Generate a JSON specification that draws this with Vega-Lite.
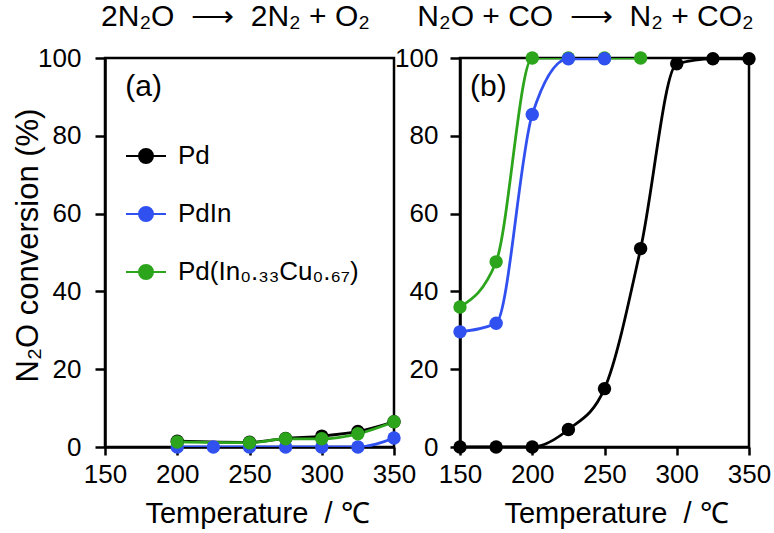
{
  "$schema": "https://vega.github.io/schema/vega-lite/v6.json",
  "padding": {"left": 10, "top": 0, "right": 5, "bottom": 0},
  "background": "white",
  "config": {
    "font": "Liberation Sans",
    "view": {"stroke": "black", "strokeWidth": 2.5},
    "axis": {
      "grid": false,
      "domainColor": "black",
      "domainWidth": 2.5,
      "tickColor": "black",
      "tickWidth": 2.5,
      "labelColor": "black",
      "titleColor": "black",
      "labelFontSize": 26,
      "titleFontWeight": "normal",
      "labelFont": "Liberation Sans",
      "titleFont": "Liberation Sans",
      "labelFlush": false,
      "labelOverlap": false
    },
    "title": {"fontSize": 30, "fontWeight": "normal", "color": "black", "font": "Liberation Sans"}
  },
  "datasets": {
    "a": [
      {"catalyst": "Pd", "T": 200, "conv": 1.5},
      {"catalyst": "Pd", "T": 250, "conv": 1.2},
      {"catalyst": "Pd", "T": 275, "conv": 2.2},
      {"catalyst": "Pd", "T": 300, "conv": 2.8},
      {"catalyst": "Pd", "T": 325, "conv": 4.0},
      {"catalyst": "Pd", "T": 350, "conv": 6.5},
      {"catalyst": "PdIn", "T": 200, "conv": 0},
      {"catalyst": "PdIn", "T": 225, "conv": 0},
      {"catalyst": "PdIn", "T": 250, "conv": 0},
      {"catalyst": "PdIn", "T": 275, "conv": 0},
      {"catalyst": "PdIn", "T": 300, "conv": 0},
      {"catalyst": "PdIn", "T": 325, "conv": 0},
      {"catalyst": "PdIn", "T": 350, "conv": 2.3},
      {"catalyst": "Pd(In₀.₃₃Cu₀.₆₇)", "T": 200, "conv": 1.3},
      {"catalyst": "Pd(In₀.₃₃Cu₀.₆₇)", "T": 250, "conv": 1.1},
      {"catalyst": "Pd(In₀.₃₃Cu₀.₆₇)", "T": 275, "conv": 2.1},
      {"catalyst": "Pd(In₀.₃₃Cu₀.₆₇)", "T": 300, "conv": 2.1},
      {"catalyst": "Pd(In₀.₃₃Cu₀.₆₇)", "T": 325, "conv": 3.4},
      {"catalyst": "Pd(In₀.₃₃Cu₀.₆₇)", "T": 350, "conv": 6.5}
    ],
    "b": [
      {"catalyst": "Pd", "T": 150, "conv": 0},
      {"catalyst": "Pd", "T": 175, "conv": 0},
      {"catalyst": "Pd", "T": 200, "conv": 0},
      {"catalyst": "Pd", "T": 225, "conv": 4.5},
      {"catalyst": "Pd", "T": 250, "conv": 15},
      {"catalyst": "Pd", "T": 275, "conv": 51},
      {"catalyst": "Pd", "T": 300, "conv": 98.5},
      {"catalyst": "Pd", "T": 325, "conv": 99.8},
      {"catalyst": "Pd", "T": 350, "conv": 99.8},
      {"catalyst": "Pd(In₀.₃₃Cu₀.₆₇)", "T": 150, "conv": 36},
      {"catalyst": "Pd(In₀.₃₃Cu₀.₆₇)", "T": 175, "conv": 47.6},
      {"catalyst": "Pd(In₀.₃₃Cu₀.₆₇)", "T": 200, "conv": 100},
      {"catalyst": "Pd(In₀.₃₃Cu₀.₆₇)", "T": 225, "conv": 100},
      {"catalyst": "Pd(In₀.₃₃Cu₀.₆₇)", "T": 250, "conv": 100},
      {"catalyst": "Pd(In₀.₃₃Cu₀.₆₇)", "T": 275, "conv": 100},
      {"catalyst": "PdIn", "T": 150, "conv": 29.6},
      {"catalyst": "PdIn", "T": 175, "conv": 31.8},
      {"catalyst": "PdIn", "T": 200, "conv": 85.5},
      {"catalyst": "PdIn", "T": 225, "conv": 99.8},
      {"catalyst": "PdIn", "T": 250, "conv": 99.8}
    ],
    "labels_a": [{"label": "(a)", "T": 164, "conv": 92.5}],
    "labels_b": [{"label": "(b)", "T": 157, "conv": 92.5}]
  },
  "bounds": "flush",
  "spacing": 66,
  "resolve": {"legend": {"color": "independent"}},
  "hconcat": [
    {
      "width": 289,
      "height": 389,
      "title": {"text": "2N₂O\u00a0 ⟶ \u00a02N₂ + O₂", "fontSize": 30, "frame": "group", "baseline": "alphabetic", "offset": -11, "dx": -14},
      "layer": [
        {
          "data": {"name": "a"},
          "mark": {"type": "line", "interpolate": "monotone", "strokeWidth": 2.8, "clip": true},
          "encoding": {
            "x": {"field": "T", "type": "quantitative", "scale": {"domain": [150, 350], "nice": false, "zero": false, "padding": 0},
              "axis": {"values": [150, 200, 250, 300, 350], "title": "Temperature\u00a0 / ℃", "titleFontSize": 29, "tickSize": 8, "labelPadding": 6, "titleX": 152, "titleY": 52, "titleBaseline": "top"}},
            "y": {"field": "conv", "type": "quantitative", "scale": {"domain": [0, 100], "nice": false, "padding": 0},
              "axis": {"values": [0, 20, 40, 60, 80, 100], "title": "N₂O conversion (%)", "titleFontSize": 31, "tickSize": 10, "labelPadding": 14, "titleX": -68, "titleY": 187, "titleBaseline": "alphabetic"}},
            "color": {"field": "catalyst", "type": "nominal",
              "scale": {"domain": ["Pd", "PdIn", "Pd(In₀.₃₃Cu₀.₆₇)"], "range": ["#000000", "#3050f0", "#2ca41c"]},
              "legend": {"title": null, "orient": "none", "legendX": 20, "legendY": 77, "padding": 0,
                "symbolType": "M-1,0L1,0M0.35,0A0.35,0.35,0,1,1,-0.35,0A0.35,0.35,0,1,1,0.35,0Z",
                "symbolSize": 1600, "symbolStrokeWidth": 2, "labelFontSize": 26, "labelColor": "black", "labelOffset": 11, "labelLimit": 400, "rowPadding": 24, "labelFont": "Liberation Sans",
                "encode": {"symbols": {"update": {"fill": {"scale": "color", "field": "value"}, "stroke": {"scale": "color", "field": "value"}, "strokeWidth": {"value": 2}, "opacity": {"value": 1}, "fillOpacity": {"value": 1}}}}}
            },
            "detail": {"field": "catalyst"}
          }
        },
        {
          "data": {"name": "a"},
          "mark": {"type": "point", "filled": true, "size": 180, "opacity": 1},
          "encoding": {
            "x": {"field": "T", "type": "quantitative"},
            "y": {"field": "conv", "type": "quantitative"},
            "color": {"field": "catalyst", "type": "nominal",
              "legend": {"title": null, "orient": "none", "legendX": 20, "legendY": 77, "padding": 0,
                "symbolType": "M-1,0L1,0M0.35,0A0.35,0.35,0,1,1,-0.35,0A0.35,0.35,0,1,1,0.35,0Z",
                "symbolSize": 1600, "symbolStrokeWidth": 2, "labelFontSize": 26, "labelColor": "black", "labelOffset": 11, "labelLimit": 400, "rowPadding": 24, "labelFont": "Liberation Sans",
                "encode": {"symbols": {"update": {"fill": {"scale": "color", "field": "value"}, "stroke": {"scale": "color", "field": "value"}, "strokeWidth": {"value": 2}, "opacity": {"value": 1}, "fillOpacity": {"value": 1}}}}}
            }
          }
        },
        {
          "data": {"name": "labels_a"},
          "mark": {"type": "text", "fontSize": 30, "align": "left", "baseline": "middle", "color": "black"},
          "encoding": {
            "x": {"field": "T", "type": "quantitative"},
            "y": {"field": "conv", "type": "quantitative"},
            "text": {"field": "label"}
          }
        }
      ]
    },
    {
      "width": 289,
      "height": 389,
      "title": {"text": "N₂O + CO\u00a0 ⟶ \u00a0N₂ + CO₂", "fontSize": 30, "frame": "group", "baseline": "alphabetic", "offset": -11, "dx": -19},
      "layer": [
        {
          "data": {"name": "b"},
          "mark": {"type": "line", "interpolate": "monotone", "strokeWidth": 2.8, "clip": true},
          "encoding": {
            "x": {"field": "T", "type": "quantitative", "scale": {"domain": [150, 350], "nice": false, "zero": false, "padding": 0},
              "axis": {"values": [150, 200, 250, 300, 350], "title": "Temperature\u00a0 / ℃", "titleFontSize": 29, "tickSize": 8, "labelPadding": 6, "titleX": 156, "titleY": 52, "titleBaseline": "top"}},
            "y": {"field": "conv", "type": "quantitative", "scale": {"domain": [0, 100], "nice": false, "padding": 0},
              "axis": {"values": [0, 20, 40, 60, 80, 100], "title": null, "tickSize": 10, "labelPadding": 12}},
            "color": {"field": "catalyst", "type": "nominal",
              "scale": {"domain": ["Pd", "PdIn", "Pd(In₀.₃₃Cu₀.₆₇)"], "range": ["#000000", "#3050f0", "#2ca41c"]},
              "legend": null},
            "detail": {"field": "catalyst"}
          }
        },
        {
          "data": {"name": "b"},
          "mark": {"type": "point", "filled": true, "size": 180, "opacity": 1},
          "encoding": {
            "x": {"field": "T", "type": "quantitative"},
            "y": {"field": "conv", "type": "quantitative"},
            "color": {"field": "catalyst", "type": "nominal", "legend": null}
          }
        },
        {
          "data": {"name": "labels_b"},
          "mark": {"type": "text", "fontSize": 30, "align": "left", "baseline": "middle", "color": "black"},
          "encoding": {
            "x": {"field": "T", "type": "quantitative"},
            "y": {"field": "conv", "type": "quantitative"},
            "text": {"field": "label"}
          }
        }
      ]
    }
  ]
}
